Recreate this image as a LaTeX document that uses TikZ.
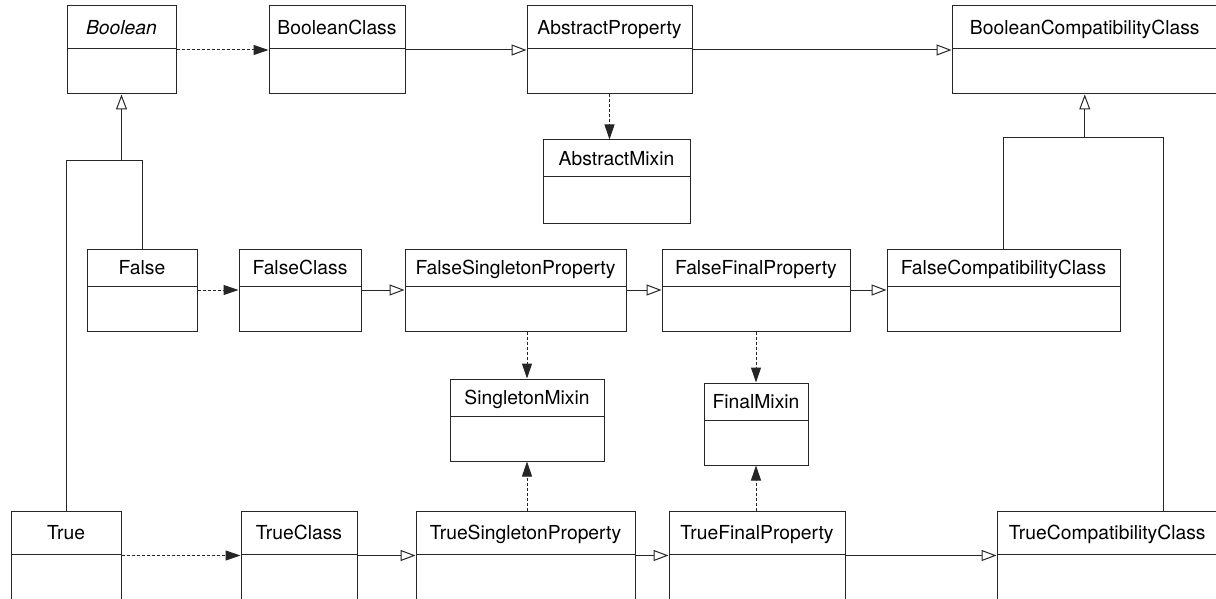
\documentclass[tikz,border=0pt]{standalone}
\usepackage{fontspec}
\setmainfont{TeX Gyre Heros}
\usetikzlibrary{arrows.meta,fit}

\tikzset{
  classbox/.style={draw=black!85, line width=1pt, inner sep=0pt, fill=white},
  classtitle/.style={inner sep=0pt, font=\fontsize{19.3}{23}\selectfont,
    text height=13.9pt, text depth=0pt, anchor=center},
  inherit/.style={draw=black!85, line width=1pt,
    -{Triangle[open,length=15pt,width=11pt]}},
  depend/.style={draw=black!85, line width=1pt, dash pattern=on 3pt off 2pt,
    -{Triangle[length=15pt,width=10pt]}},
  link/.style={draw=black!85, line width=1pt},
}

% #1 name, #2 left, #3 top, #4 right, #5 bottom, #6 header height, #7 title
\newcommand\umlclass[7]{%
  \node[classbox, fit={(#2,#3) (#4,#5)}] (#1) {};
  \node[classbox, fit={(#2,#3) (#4,{#3+#6})}] (#1-h) {};
  \node[classtitle] (#1-t) at (#1-h.center) {#7};
}

\begin{document}
\begin{tikzpicture}[x=1pt, y=-1pt]
\useasboundingbox (0,0) rectangle (1216,599);
\clip (0,0) rectangle (1216,599);

% top row
\umlclass{Boolean}{67}{6}{176}{94}{43}{\itshape Boolean}
\umlclass{BooleanClass}{269}{6}{405}{94}{43}{BooleanClass}
\umlclass{AbstractProperty}{527}{6}{692}{94}{43}{AbstractProperty}
\umlclass{BooleanCompatibilityClass}{952}{6}{1217.5}{94}{43}{BooleanCompatibilityClass}
\umlclass{AbstractMixin}{543}{140}{690}{223}{37}{AbstractMixin}

% false row
\umlclass{False}{87}{249}{197}{331}{37}{False}
\umlclass{FalseClass}{239}{249}{361}{331}{37}{FalseClass}
\umlclass{FalseSingletonProperty}{405}{249}{626}{331}{37}{FalseSingletonProperty}
\umlclass{FalseFinalProperty}{662}{249}{850}{331}{37}{FalseFinalProperty}
\umlclass{FalseCompatibilityClass}{887}{249}{1120}{331}{37}{FalseCompatibilityClass}

% mixins
\umlclass{SingletonMixin}{450}{379}{604}{461}{37}{SingletonMixin}
\umlclass{FinalMixin}{704}{383}{808}{465}{37}{FinalMixin}

% true row
\umlclass{True}{11}{511}{121}{600}{43}{True}
\umlclass{TrueClass}{241}{511}{357}{600}{43}{TrueClass}
\umlclass{TrueSingletonProperty}{416}{511}{635}{600}{43}{TrueSingletonProperty}
\umlclass{TrueFinalProperty}{669}{511}{845}{600}{43}{TrueFinalProperty}
\umlclass{TrueCompatibilityClass}{997}{511}{1217.5}{600}{43}{TrueCompatibilityClass}

% top row relations
\draw[depend] (Boolean.east) -- (BooleanClass.west);
\draw[inherit] (BooleanClass.east) -- (AbstractProperty.west);
\draw[inherit] (AbstractProperty.east) -- (BooleanCompatibilityClass.west);
\draw[depend] (AbstractProperty.south) -- (AbstractProperty.south |- AbstractMixin.north);

% false row relations
\draw[depend] (False.east) -- (FalseClass.west);
\draw[inherit] (FalseClass.east) -- (FalseSingletonProperty.west);
\draw[inherit] (FalseSingletonProperty.east) -- (FalseFinalProperty.west);
\draw[inherit] (FalseFinalProperty.east) -- (FalseCompatibilityClass.west);
\draw[depend] (SingletonMixin.north |- FalseSingletonProperty.south) -- (SingletonMixin.north);
\draw[depend] (FinalMixin.north |- FalseFinalProperty.south) -- (FinalMixin.north);

% true row relations
\draw[depend] (True.east) -- (TrueClass.west);
\draw[inherit] (TrueClass.east) -- (TrueSingletonProperty.west);
\draw[inherit] (TrueSingletonProperty.east) -- (TrueFinalProperty.west);
\draw[inherit] (TrueFinalProperty.east) -- (TrueCompatibilityClass.west);
\draw[depend] (SingletonMixin.south |- TrueSingletonProperty.north) -- (SingletonMixin.south);
\draw[depend] (FinalMixin.south |- TrueFinalProperty.north) -- (FinalMixin.south);

% generalisation trees
\coordinate (jB) at (121.5,161);
\draw[inherit] (False.north) |- (jB) -- (Boolean.south);
\draw[link] (True.north) |- (jB);

\coordinate (jC) at (1084.75,138);
\coordinate (jC2) at (1163,138);
\draw[inherit] (FalseCompatibilityClass.north) |- (jC) -- (BooleanCompatibilityClass.south);
\draw[link] (TrueCompatibilityClass.north -| jC2) -- (jC2) -- (jC);
\end{tikzpicture}
\end{document}
